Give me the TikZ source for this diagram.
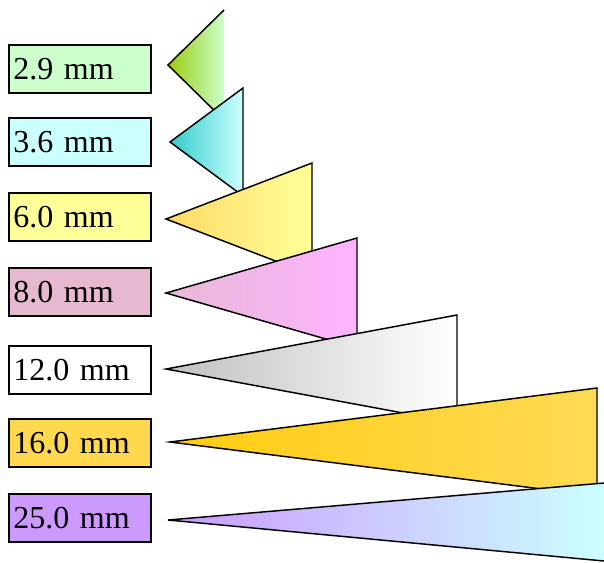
\documentclass[tikz,border=0pt]{standalone}
\usepackage{fontspec}
\setmainfont{Liberation Serif}
\definecolor{gA}{HTML}{99CC11}
\definecolor{gB}{HTML}{CCFFCC}
\definecolor{cA}{HTML}{33CCCC}
\definecolor{cB}{HTML}{CCFFFF}
\definecolor{yA}{HTML}{FFD966}
\definecolor{yB}{HTML}{FFFF99}
\definecolor{pBox}{HTML}{E6B9D0}
\definecolor{pA}{HTML}{E6B9D6}
\definecolor{pB}{HTML}{FFB3FF}
\definecolor{sA}{HTML}{C0C0C0}
\definecolor{oBox}{HTML}{FFD84D}
\definecolor{oA}{HTML}{FFCC11}
\definecolor{oB}{HTML}{FFDA55}
\definecolor{vA}{HTML}{CC99FF}
\begin{document}
\begin{tikzpicture}[x=0.75pt,y=-0.75pt,
  lbl/.style={draw=black, line width=1.3pt, minimum height=36pt, text width=100pt,
    inner xsep=3pt, align=left, font=\fontsize{24}{27}\selectfont, anchor=center},
  tri/.style={draw=black, line width=1.1pt, line join=miter}]
\useasboundingbox (0,0) rectangle (604,562);
% triangle 1 (no right stroke)
\shade[left color=gA, right color=gB] (224,10) -- (168,65) -- (224,120) -- cycle;
\draw[tri] (224,10) -- (168,65) -- (224,120);
% triangle 2
\shade[tri, left color=cA, right color=cB] (243,88) -- (170,142) -- (243,196) -- cycle;
% triangle 3
\shade[tri, left color=yA, right color=yB] (312,163) -- (166,219) -- (312,275) -- cycle;
% triangle 4
\shade[tri, left color=pA, right color=pB] (357,238) -- (166,293) -- (357,348) -- cycle;
% triangle 5
\shade[tri, left color=sA, right color=white] (457,315) -- (166,369) -- (457,423) -- cycle;
% triangle 6
\shade[tri, left color=oA, right color=oB] (597,388) -- (170,442) -- (597,496) -- cycle;
% triangle 7 (cut by the right border)
\shade[left color=vA, right color=cB] (604,483) -- (168,520) -- (604,561) -- cycle;
\draw[tri] (604,483) -- (168,520) -- (604,561);
\node[lbl, fill=gB] (b1) at (80,69) {2.9 mm};
\node[lbl, fill=cB] (b2) at (80,142) {3.6 mm};
\node[lbl, fill=yB] (b3) at (80,217) {6.0 mm};
\node[lbl, fill=pBox] (b4) at (80,292) {8.0 mm};
\node[lbl, fill=white] (b5) at (80,370) {12.0 mm};
\node[lbl, fill=oBox] (b6) at (80,443) {16.0 mm};
\node[lbl, fill=vA] (b7) at (80,518) {25.0 mm};
\end{tikzpicture}
\end{document}
